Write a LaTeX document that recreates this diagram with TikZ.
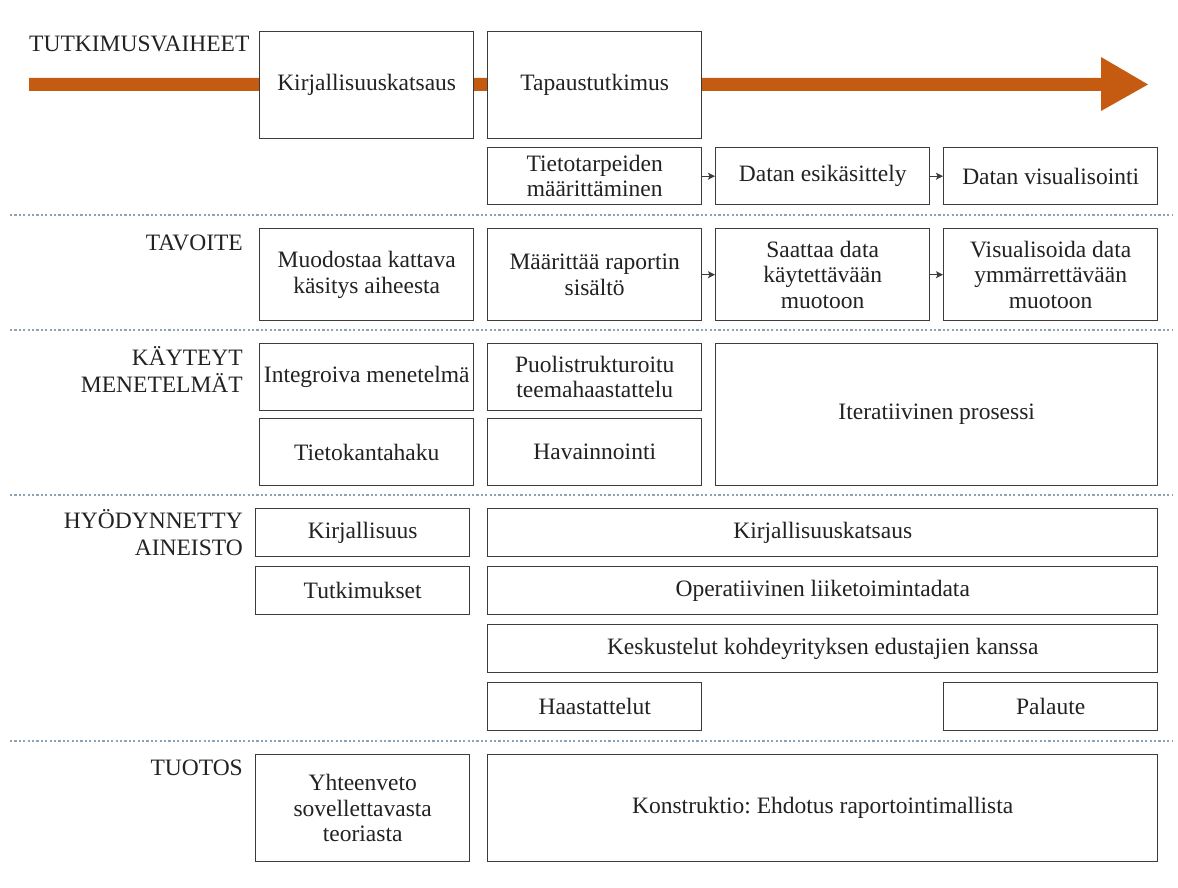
\documentclass[tikz,border=0pt]{standalone}
\usepackage{fontspec}
\setmainfont{Liberation Serif}
\usetikzlibrary{arrows.meta}
\frenchspacing

\definecolor{phasearrow}{HTML}{C55A11}
\definecolor{boxline}{HTML}{3C3C3C}
\definecolor{inktext}{HTML}{222222}
\definecolor{sepdots}{HTML}{8CA4B6}

% box from its top-left corner (#2,#3) to its bottom-right corner (#4,#5)
\newcommand{\mkbox}[6]{%
  \node[stagebox, minimum width={(#4-#2)*1pt}, minimum height={(#5-#3)*1pt}]
    (#1) at (#2,#3) {#6};}

\tikzset{
  stagebox/.style={draw=boxline, line width=1.4pt, fill=white, anchor=north west,
    inner sep=0pt, align=center, text=inktext,
    font=\fontsize{23.5}{25.5}\selectfont},
  rowlabel/.style={inner sep=0pt, align=right, text=inktext, anchor=base east,
    font=\fontsize{23.5}{27}\selectfont},
  separator/.style={draw=sepdots, line width=2.2pt, dash pattern=on 2.2pt off 2.2pt},
  steparrow/.style={draw=boxline, line width=1.2pt,
    -{Stealth[length=7pt,width=7pt,inset=1.5pt]}},
}

\begin{document}
\begin{tikzpicture}[x=1pt,y=-1pt]
\useasboundingbox (0,0) rectangle (1178,888);

% orange phase arrow behind the top boxes
\coordinate (arrowstart) at (29,84.5);
\coordinate (arrowtip) at (1148,84.5);
\fill[phasearrow] (29,78) -- (1101,78) -- (1101,57) -- (arrowtip)
  -- (1101,111) -- (1101,91) -- (29,91) -- cycle;

% section separators
\draw[separator] (10,215) coordinate (s1a) -- (1172,215) coordinate (s1b);
\draw[separator] (10,330) coordinate (s2a) -- (1172,330) coordinate (s2b);
\draw[separator] (10,495) coordinate (s3a) -- (1172,495) coordinate (s3b);
\draw[separator] (10,741) coordinate (s4a) -- (1172,741) coordinate (s4b);

% row labels (base anchor sits on the last line)
\node[rowlabel, anchor=base west] (lphase) at (29,52) {TUTKIMUSVAIHEET};
\node[rowlabel] (lgoal) at (243,250) {TAVOITE};
\node[rowlabel] (lmeth) at (243,392) {KÄYTEYT\\MENETELMÄT};
\node[rowlabel] (ldata) at (243,555) {HYÖDYNNETTY\\AINEISTO};
\node[rowlabel] (lout) at (243,775) {TUOTOS};

% research phases
\mkbox{lit}{259}{31}{473}{138}{Kirjallisuuskatsaus}
\mkbox{case}{487}{31}{701}{138}{Tapaustutkimus}
\mkbox{needs}{487}{147}{701}{204}{Tietotarpeiden\\määrittäminen}
\mkbox{prep}{715}{147}{929}{204}{Datan esikäsittely}
\mkbox{vis}{943}{147}{1157}{204}{Datan visualisointi}
\draw[steparrow] (needs) -- (prep);
\draw[steparrow] (prep) -- (vis);

% goals
\mkbox{g1}{259}{228}{473}{320}{Muodostaa kattava\\käsitys aiheesta}
\mkbox{g2}{487}{228}{701}{320}{Määrittää raportin\\sisältö}
\mkbox{g3}{715}{228}{929}{320}{Saattaa data\\käytettävään\\muotoon}
\mkbox{g4}{943}{228}{1157}{320}{Visualisoida data\\ymmärrettävään\\muotoon}
\draw[steparrow] (g2) -- (g3);
\draw[steparrow] (g3) -- (g4);

% methods
\mkbox{m1}{259}{343}{473}{410}{Integroiva menetelmä}
\mkbox{m2}{259}{418}{473}{485}{Tietokantahaku}
\mkbox{m3}{487}{343}{701}{410}{Puolistrukturoitu\\teemahaastattelu}
\mkbox{m4}{487}{418}{701}{485}{Havainnointi}
\mkbox{m5}{715}{343}{1157}{485}{Iteratiivinen prosessi}

% material
\mkbox{d1}{255}{508}{469}{556}{Kirjallisuus}
\mkbox{d2}{255}{566}{469}{614}{Tutkimukset}
\mkbox{d3}{487}{508}{1157}{556}{Kirjallisuuskatsaus}
\mkbox{d4}{487}{566}{1157}{614}{Operatiivinen liiketoimintadata}
\mkbox{d5}{487}{624}{1157}{672}{Keskustelut kohdeyrityksen edustajien kanssa}
\mkbox{d6}{487}{682}{701}{730}{Haastattelut}
\mkbox{d7}{943}{682}{1157}{730}{Palaute}

% outputs
\mkbox{o1}{255}{754}{469}{861}{Yhteenveto\\sovellettavasta\\teoriasta}
\mkbox{o2}{487}{754}{1157}{861}{Konstruktio: Ehdotus raportointimallista}
\end{tikzpicture}
\end{document}
